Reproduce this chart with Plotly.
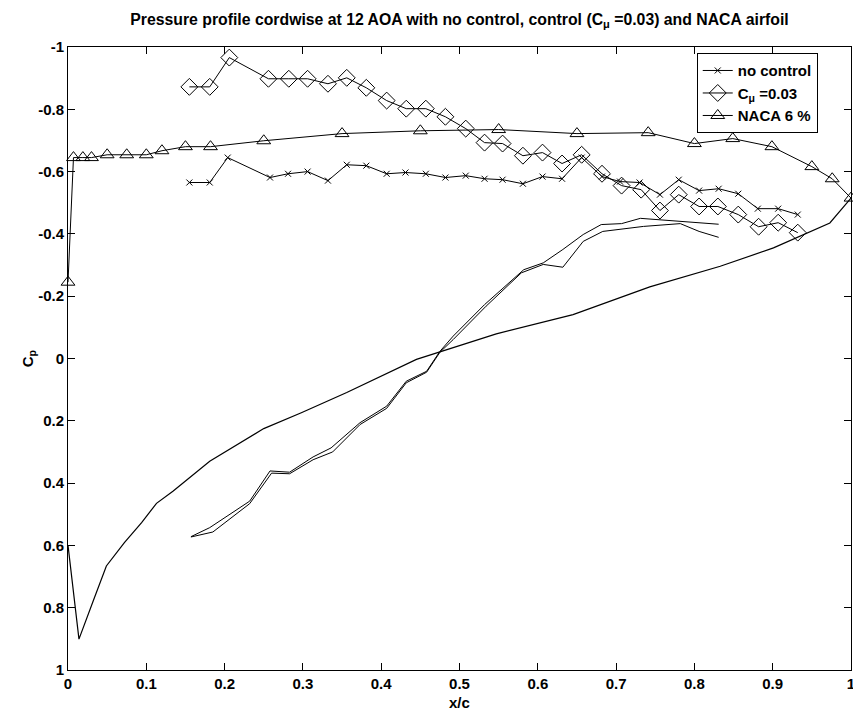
import plotly.graph_objects as go

# ---------------- data ----------------
# upper surface, no control (x markers)
nc_x = [0.155, 0.181, 0.204, 0.258, 0.281, 0.306, 0.332, 0.356, 0.381, 0.407,
        0.431, 0.457, 0.482, 0.508, 0.532, 0.555, 0.581, 0.606, 0.631, 0.656,
        0.682, 0.705, 0.730, 0.756, 0.780, 0.806, 0.831, 0.856, 0.881, 0.907, 0.932]
nc_cp = [-0.565, -0.565, -0.645, -0.581, -0.593, -0.600, -0.571, -0.622, -0.619, -0.593,
         -0.597, -0.593, -0.581, -0.587, -0.577, -0.574, -0.561, -0.584, -0.577, -0.645,
         -0.584, -0.568, -0.565, -0.526, -0.574, -0.539, -0.545, -0.529, -0.481, -0.481, -0.462]

# upper surface, control C_mu = 0.03 (diamonds)
ct_x = [0.155, 0.181, 0.206, 0.256, 0.282, 0.306, 0.332, 0.356, 0.381, 0.407,
        0.432, 0.457, 0.482, 0.508, 0.532, 0.555, 0.581, 0.606, 0.631, 0.656,
        0.682, 0.707, 0.732, 0.756, 0.780, 0.806, 0.830, 0.856, 0.882, 0.907, 0.932]
ct_cp = [-0.872, -0.872, -0.966, -0.898, -0.898, -0.898, -0.882, -0.901, -0.869, -0.828,
         -0.802, -0.802, -0.776, -0.738, -0.693, -0.690, -0.651, -0.661, -0.626, -0.654,
         -0.593, -0.555, -0.542, -0.475, -0.526, -0.488, -0.488, -0.462, -0.423, -0.436, -0.404]

# NACA airfoil, upper surface (triangles)
naca_up_x = [0.0, 0.007, 0.019, 0.030, 0.050, 0.075, 0.100, 0.120, 0.150, 0.182,
             0.250, 0.350, 0.450, 0.550, 0.650, 0.741, 0.800, 0.849, 0.899, 0.950, 0.976, 1.0]
naca_up_cp = [-0.245, -0.645, -0.645, -0.645, -0.654, -0.654, -0.654, -0.667, -0.680, -0.680,
              -0.699, -0.722, -0.731, -0.735, -0.722, -0.725, -0.690, -0.706, -0.680, -0.616, -0.577, -0.515]

# NACA airfoil, lower surface (line only)
naca_lo_x = [0.0, 0.014, 0.033, 0.049, 0.072, 0.094, 0.113, 0.134, 0.181, 0.250,
             0.298, 0.356, 0.445, 0.475, 0.547, 0.645, 0.743, 0.833, 0.901, 0.973, 1.0]
naca_lo_cp = [0.600, 0.901, 0.773, 0.666, 0.591, 0.527, 0.465, 0.426, 0.330, 0.225,
              0.174, 0.109, 0.003, -0.021, -0.079, -0.141, -0.230, -0.296, -0.355, -0.435, -0.515]

# lower surfaces of the two tests (lines only)
lo_a_x = [0.157, 0.181, 0.232, 0.258, 0.283, 0.313, 0.336, 0.373, 0.407, 0.432,
          0.458, 0.475, 0.492, 0.532, 0.582, 0.607, 0.632, 0.658, 0.681, 0.707,
          0.731, 0.782, 0.831]
lo_a_cp = [0.572, 0.543, 0.458, 0.361, 0.365, 0.316, 0.287, 0.206, 0.153, 0.073,
           0.041, -0.023, -0.072, -0.173, -0.285, -0.307, -0.350, -0.398, -0.430, -0.433,
           -0.450, -0.440, -0.431]
lo_b_x = [0.157, 0.185, 0.232, 0.260, 0.283, 0.313, 0.338, 0.373, 0.407, 0.432,
          0.458, 0.475, 0.492, 0.534, 0.579, 0.607, 0.632, 0.658, 0.683, 0.735,
          0.782, 0.806, 0.831]
lo_b_cp = [0.573, 0.557, 0.466, 0.368, 0.370, 0.325, 0.300, 0.212, 0.160, 0.078,
           0.044, -0.020, -0.061, -0.168, -0.275, -0.302, -0.293, -0.376, -0.408, -0.424,
           -0.433, -0.408, -0.389]

x_tick_vals = [0, 0.1, 0.2, 0.3, 0.4, 0.5, 0.6, 0.7, 0.8, 0.9, 1]
x_tick_text = ["0", "0.1", "0.2", "0.3", "0.4", "0.5", "0.6", "0.7", "0.8", "0.9", "1"]
y_tick_vals = [-1, -0.8, -0.6, -0.4, -0.2, 0, 0.2, 0.4, 0.6, 0.8, 1]
y_tick_text = ["-1", "-0.8", "-0.6", "-0.4", "-0.2", "0", "0.2", "0.4", "0.6", "0.8", "1"]

FONT = "Liberation Sans"
BLACK = "black"

fig = go.Figure()
fig.add_trace(go.Scatter(
    x=nc_x, y=nc_cp, mode="lines+markers", name="no control",
    line=dict(color=BLACK, width=1),
    marker=dict(symbol="x-thin-open", size=6, color=BLACK, line=dict(color=BLACK, width=1))))
fig.add_trace(go.Scatter(
    x=ct_x, y=ct_cp, mode="lines+markers", name="C<sub>μ</sub> =0.03",
    line=dict(color=BLACK, width=1),
    marker=dict(symbol="diamond-open", size=13, color=BLACK, line=dict(color=BLACK, width=1))))
fig.add_trace(go.Scatter(
    x=naca_up_x, y=naca_up_cp, mode="lines+markers", name="NACA 6 %", cliponaxis=False,
    line=dict(color=BLACK, width=1),
    marker=dict(symbol="triangle-up-open", size=12, color=BLACK, line=dict(color=BLACK, width=1))))
fig.add_trace(go.Scatter(
    x=naca_lo_x, y=naca_lo_cp, mode="lines", showlegend=False,
    line=dict(color=BLACK, width=1.2)))
fig.add_trace(go.Scatter(
    x=lo_a_x, y=lo_a_cp, mode="lines", showlegend=False,
    line=dict(color=BLACK, width=1)))
fig.add_trace(go.Scatter(
    x=lo_b_x, y=lo_b_cp, mode="lines", showlegend=False,
    line=dict(color=BLACK, width=1)))

axis_common = dict(
    showline=True, linecolor=BLACK, linewidth=1, mirror="ticks",
    ticks="inside", ticklen=7, tickcolor=BLACK, tickwidth=1,
    showgrid=False, zeroline=False, automargin=False,
    ticklabeloverflow="allow",
    tickfont=dict(family=FONT, size=15, color=BLACK, weight="bold"),
)

title_font = dict(family=FONT, size=15, color=BLACK, weight="bold")

fig.update_layout(
    width=853, height=715,
    margin=dict(l=68, r=2, t=47, b=45, autoexpand=False),
    paper_bgcolor="white", plot_bgcolor="white",
    font=dict(family=FONT, color=BLACK),
    title=dict(
        text="Pressure profile cordwise at 12 AOA with no control, control (C<sub>μ</sub> =0.03) and NACA airfoil",
        x=0.5, xref="paper", xanchor="center",
        y=1 - 19 / 715, yref="container", yanchor="middle",
        font=dict(family=FONT, size=15.8, color=BLACK, weight="bold")),
    xaxis=dict(range=[0, 1], tickvals=x_tick_vals, ticktext=x_tick_text, **axis_common),
    yaxis=dict(range=[1, -1], tickvals=y_tick_vals, ticktext=y_tick_text, **axis_common),
    annotations=[
        dict(text="x/c", xref="paper", yref="paper", x=0.5, y=-0.052,
             xanchor="center", yanchor="middle", showarrow=False, font=title_font),
        dict(text="C<sub>p</sub>", xref="paper", yref="paper", x=-0.05, y=0.5,
             xanchor="center", yanchor="middle", textangle=-90, showarrow=False, font=title_font),
    ],
    legend=dict(x=0.803, y=0.99, xanchor="left", yanchor="top",
                bordercolor=BLACK, borderwidth=1, bgcolor="white",
                tracegroupgap=0, itemwidth=30,
                font=dict(family=FONT, size=15, color=BLACK, weight="bold")),
)

fig.write_html(
    "out.html",
    config={"displayModeBar": False},
    post_script="document.body.style.margin='0';document.body.style.padding='0';"
                "document.body.style.overflow='hidden';",
)
